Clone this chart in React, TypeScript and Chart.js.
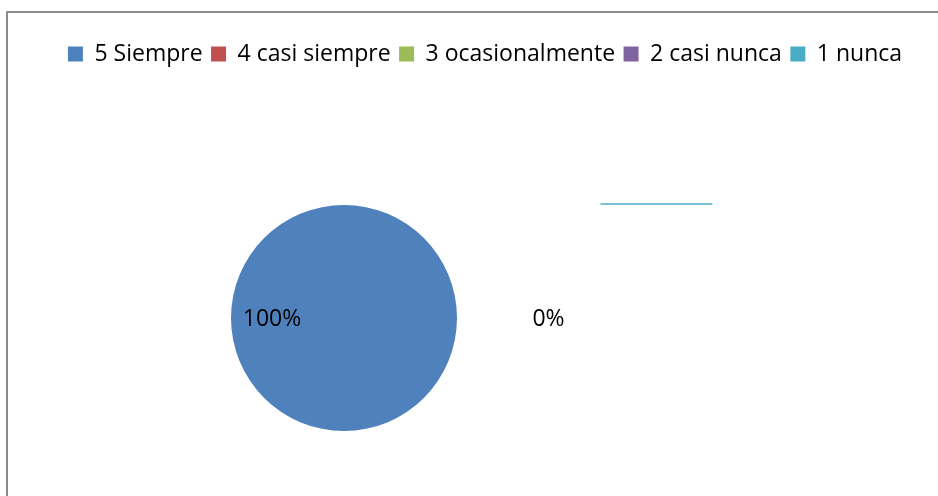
import { useEffect, useRef } from "react";
import { Chart, registerables } from "chart.js";

Chart.register(...registerables);

const CATEGORIES = ["5 Siempre", "4 casi siempre", "3 ocasionalmente", "2 casi nunca", "1 nunca"];
const VALUES = [100, 0, 0, 0, 0];
const COLORS = ["#4f81bd", "#c0504d", "#9bbb59", "#8064a2", "#4bacc6"];

const FONT = "'Open Sans', 'Liberation Sans', sans-serif";
const FONT_SIZE = 23;
// layout of the pie inside the canvas
const PIE = { cx: 344, cy: 318, r: 113 };

const pieBoxPlugin = {
  id: "pieBox",
  afterLayout(chart: any) {
    chart.chartArea = {
      left: PIE.cx - PIE.r,
      right: PIE.cx + PIE.r,
      top: PIE.cy - PIE.r,
      bottom: PIE.cy + PIE.r,
      width: PIE.r * 2,
      height: PIE.r * 2,
    };
  },
};

const labelPlugin = {
  id: "pieLabels",
  afterDatasetsDraw(chart: any) {
    const ctx = chart.ctx;
    const meta = chart.getDatasetMeta(0);
    const total = VALUES.reduce((a, b) => a + b, 0);
    ctx.save();
    ctx.font = `${FONT_SIZE}px ${FONT}`;
    ctx.fillStyle = "#000";
    ctx.textAlign = "center";
    ctx.textBaseline = "middle";
    let zeroDone = false;
    meta.data.forEach((arc: any, i: number) => {
      const { x, y, outerRadius } = arc.getProps(["x", "y", "outerRadius"], true);
      const r = outerRadius;
      const txt = Math.round((VALUES[i] / total) * 100) + "%";
      if (VALUES[i] > 0) {
        ctx.fillText(txt, x - 0.637 * r, y + 1);
      } else if (!zeroDone) {
        zeroDone = true;
        ctx.fillText(txt, x + 1.81 * r, y + 1);
        ctx.strokeStyle = COLORS[COLORS.length - 1];
        ctx.lineWidth = 1.5;
        ctx.beginPath();
        ctx.moveTo(x + 2.27 * r, y - r - 1);
        ctx.lineTo(x + 3.26 * r, y - r - 1);
        ctx.stroke();
      }
    });
    ctx.restore();
  },
};

export default function App() {
  const ref = useRef<HTMLCanvasElement>(null);
  useEffect(() => {
    if (!ref.current) return;
    const chart = new Chart(ref.current, {
      type: "pie",
      data: {
        labels: CATEGORIES,
        datasets: [
          {
            data: VALUES,
            backgroundColor: COLORS,
            borderWidth: 0,
            clip: false as any,
          },
        ],
      },
      options: {
        animation: false,
        responsive: true,
        maintainAspectRatio: false,
        layout: { padding: { top: 34, bottom: 20, left: 32, right: 0 } },
        plugins: {
          legend: {
            position: "top",
            labels: {
              boxWidth: 15,
              boxHeight: 15,
              padding: 8.5,
              color: "#000",
              font: { family: FONT, size: FONT_SIZE },
            },
          },
          tooltip: { enabled: false },
        },
      },
      plugins: [pieBoxPlugin, labelPlugin],
    });
    return () => chart.destroy();
  }, []);

  return (
    <div style={{ position: "absolute", left: 0, top: 0, width: 938, height: 496, overflow: "hidden", background: "#fff" }}>
      <div
        style={{
          position: "absolute",
          left: 6,
          top: 11,
          width: 1000,
          height: 600,
          borderLeft: "2px solid #8c8c8c",
          borderTop: "2px solid #8c8c8c",
        }}
      />
      <canvas ref={ref} style={{ position: "absolute", left: 0, top: 0, width: 938, height: 496 }} />
    </div>
  );
}
